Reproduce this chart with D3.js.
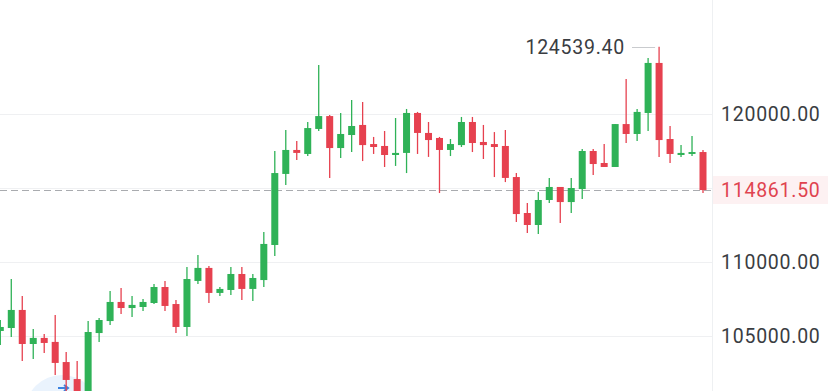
<!DOCTYPE html>
<html>
<head>
<meta charset="utf-8">
<script src="https://cdn.jsdelivr.net/npm/d3@7/dist/d3.min.js"></script>
<style>
  html, body { margin: 0; padding: 0; background: #fff; }
  svg { display: block; }
</style>
</head>
<body>
<svg id="chart" width="828" height="391"></svg>
<script>
// ---- Data ----
const candleIndex = d3.range(65);
const openVals  = [105340,105540,106760,104460,104870,104600,103240,102090,100900,105200,106010,107300,106890,106960,107230,108310,107160,105610,108720,109600,107910,108110,109190,108180,108780,111150,115950,117570,117300,118990,119860,117700,118580,119260,117970,117840,117230,117370,120070,118720,118380,117570,117900,119460,118110,117970,117840,115740,113310,112500,114190,115070,114050,114930,117500,116690,116420,119320,118650,120070,123450,118310,117230,117300,117430];
const highVals  = [106080,108850,107700,105470,105140,106420,103920,103310,106010,106220,108040,108240,107700,107500,108510,108720,107430,109660,110470,109730,108310,109660,109660,109190,112030,117500,118920,118180,119460,123310,119930,120070,120950,120810,118450,118850,119730,120340,120140,119460,118450,118310,119800,119800,119260,118780,118920,116010,113990,114730,115680,115070,115680,117640,117640,117970,119320,122370,120340,123780,124539.4,119190,117910,118510,117570];
const lowVals   = [104390,104930,103310,103450,103850,102370,101200,100500,100700,104600,105740,106490,106280,106690,107160,106690,105200,105000,108510,107230,107700,107770,107430,107370,108310,110400,115200,116890,117160,118850,115680,117030,117430,116820,117300,116420,116490,116010,117300,117100,114660,117160,117770,117430,116960,115740,115400,112700,111960,111890,113990,112640,113310,114260,115880,116420,116420,118040,118180,118850,117100,116690,117100,117160,114660];
const closeVals = [105610,106760,104460,104870,104530,103180,102030,100900,105270,106080,107300,106890,107100,107300,108310,107030,105610,108850,109600,107910,108180,109190,108180,108920,111220,116010,117570,117370,119050,119860,117700,118650,119190,117900,117770,117230,117370,120070,118720,118240,117570,117970,119460,118040,117900,117770,115680,113240,112500,114190,115070,114050,115000,117500,116620,116420,119320,118650,120140,123450,118240,117300,117370,117430,114861.5];
const axisTicks = [120000, 110000, 105000];
const lastPrice = 114861.5;
const maxPrice = 124539.4;

// ---- Layout ----
const W = 828, H = 391, plotRight = 712;
const green = "#2fb257", red = "#e6414f";
const svg = d3.select("#chart");

const x = d3.scaleLinear().domain([0, 64]).range([0.3, 703]);
const y = d3.scaleLinear().domain([105000, 120000]).range([336, 114]);

// gridlines
svg.append("g").selectAll("line").data([120000, 115000, 110000, 105000]).join("line")
  .attr("x1", 0).attr("x2", plotRight)
  .attr("y1", d => Math.round(y(d)) + 0.5).attr("y2", d => Math.round(y(d)) + 0.5)
  .attr("stroke", "#eff0f2").attr("stroke-width", 1);

// right axis separator
svg.append("line").attr("x1", plotRight + 0.5).attr("x2", plotRight + 0.5)
  .attr("y1", 0).attr("y2", H).attr("stroke", "#eef0f2").attr("stroke-width", 1);

// decorative pale circle at bottom-left
svg.append("circle").attr("cx", 62).attr("cy", 412).attr("r", 37).attr("fill", "#eaf3fd");
svg.append("path").attr("d", "M58,388 L68,388 M64,385 L68,388 L64,391")
  .attr("stroke", "#3b82e0").attr("stroke-width", 2).attr("fill", "none");

// dashed last-price line
svg.append("line").attr("x1", 0).attr("x2", plotRight)
  .attr("y1", Math.round(y(lastPrice)) + 0.5).attr("y2", Math.round(y(lastPrice)) + 0.5)
  .attr("stroke", "#a9abaf").attr("stroke-width", 1.2).attr("stroke-dasharray", "7,4");

// candles
const candles = svg.append("g").selectAll("g").data(candleIndex).join("g");
const col = i => closeVals[i] >= openVals[i] ? green : red;
const bw = 7;
candles.append("line")
  .attr("x1", i => x(i)).attr("x2", i => x(i))
  .attr("y1", i => y(highVals[i])).attr("y2", i => y(lowVals[i]))
  .attr("stroke", col).attr("stroke-width", 1.3);
candles.append("rect")
  .attr("x", i => x(i) - bw / 2).attr("width", bw)
  .attr("y", i => y(Math.max(openVals[i], closeVals[i])))
  .attr("height", i => Math.max(1.5, Math.abs(y(openVals[i]) - y(closeVals[i]))))
  .attr("fill", col);

// axis labels
const font = "Roboto, 'Noto Sans', sans-serif";
svg.append("g").selectAll("text").data(axisTicks).join("text")
  .attr("x", 721).attr("y", d => y(d)).attr("dy", "0.36em")
  .attr("font-family", font).attr("font-size", 19.5).attr("fill", "#3a3d42")
  .attr("letter-spacing", 0.75)
  .text(d => d3.format(".2f")(d));

// last price label
svg.append("rect").attr("x", plotRight + 1).attr("y", y(lastPrice) - 14)
  .attr("width", W - plotRight - 1).attr("height", 28).attr("fill", "#fdf1f2");
svg.append("text").attr("x", 721).attr("y", y(lastPrice)).attr("dy", "0.36em")
  .attr("font-family", font).attr("font-size", 19.5).attr("fill", "#e0434f")
  .attr("letter-spacing", 0.75)
  .text(d3.format(".2f")(lastPrice));

// max price marker
const maxIdx = highVals.indexOf(maxPrice);
svg.append("line").attr("x1", 632).attr("x2", x(maxIdx) - 4)
  .attr("y1", Math.round(y(maxPrice)) + 0.5).attr("y2", Math.round(y(maxPrice)) + 0.5)
  .attr("stroke", "#c9cbce").attr("stroke-width", 1);
svg.append("text").attr("x", 625).attr("y", y(maxPrice)).attr("dy", "0.36em")
  .attr("text-anchor", "end")
  .attr("font-family", font).attr("font-size", 19.5).attr("fill", "#3a3d42")
  .attr("letter-spacing", 0.75)
  .text(d3.format(".2f")(maxPrice));
</script>
</body>
</html>
